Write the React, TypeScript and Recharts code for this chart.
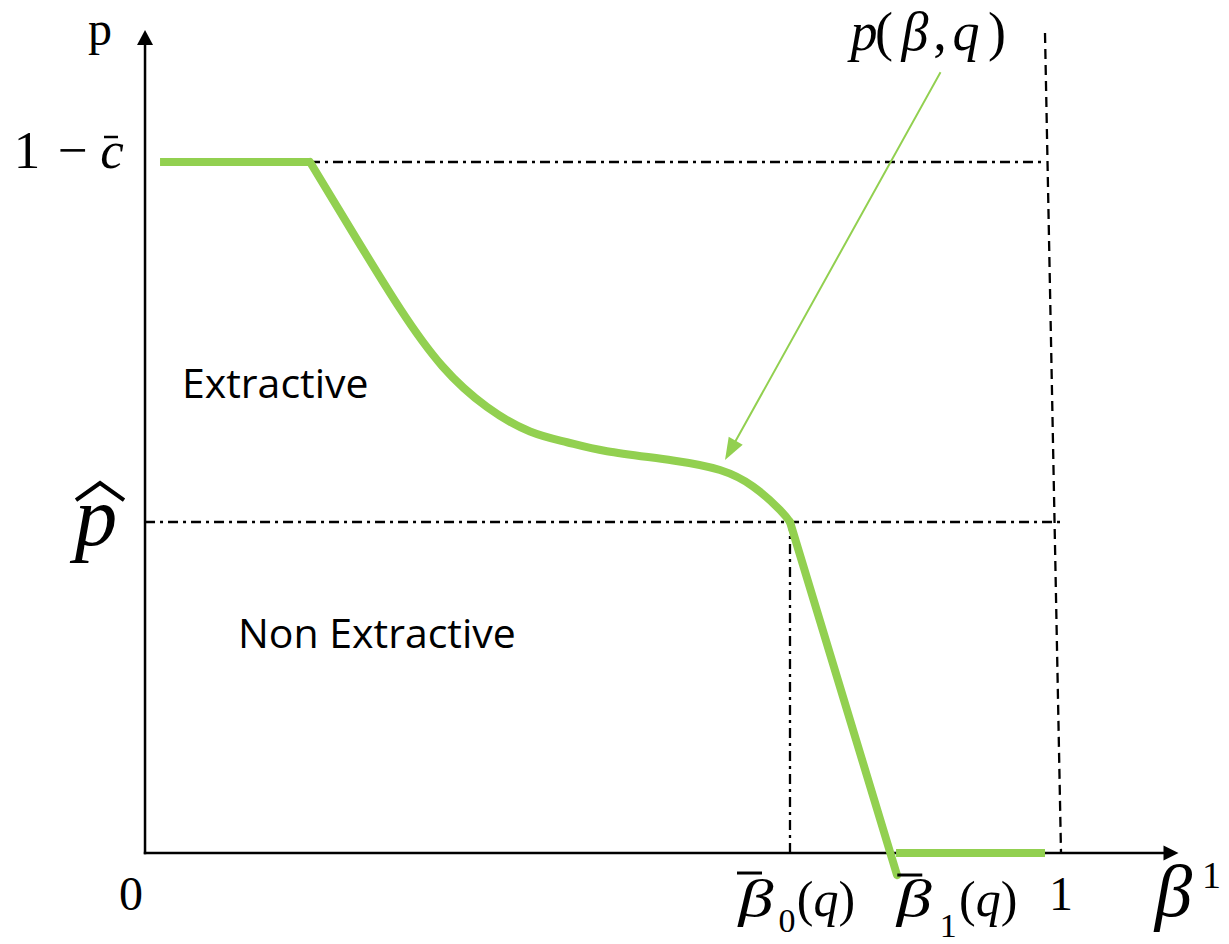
import React from 'react';
import {
  ComposedChart,
  Line,
  XAxis,
  YAxis,
  ReferenceLine,
  ReferenceDot,
} from 'recharts';

// frame of the figure, in (beta, p) units
const X_DOMAIN = [-0.1585, 1.1847];
const Y_DOMAIN = [-0.1185, 1.111];
const X_AXIS_END = 1.1295;
const Y_AXIS_END = 1.072;

// key levels
const ONE_MINUS_C = 0.9;
const P_HAT = 0.4311;
const BETA_0 = 0.7049;
const BETA_1 = 0.8145;
const BETA_MAX = 1;

// p(beta, q) pieces
const flatTop = [
  { b: 0.0164, p: 0.9 },
  { b: 0.1803, p: 0.9 },
];
const descent = [
  { b: 0.1803, p: 0.9 },
  { b: 0.2317, p: 0.799 },
  { b: 0.2787, p: 0.709 },
  { b: 0.325, p: 0.634 },
  { b: 0.3738, p: 0.5809 },
  { b: 0.4208, p: 0.549 },
  { b: 0.4612, p: 0.535 },
  { b: 0.5049, p: 0.5233 },
  { b: 0.577, p: 0.5113 },
  { b: 0.6284, p: 0.4988 },
  { b: 0.6645, p: 0.4774 },
  { b: 0.694, p: 0.4467 },
  { b: 0.7049, p: 0.4311 },
];
const steep = [
  { b: 0.7049, p: 0.4311 },
  { b: 0.8219, p: -0.0287 },
];
const flatBottom = [
  { b: 0.8208, p: 0 },
  { b: 0.9836, p: 0 },
];

// the slanted dashed line at beta = 1
const dashedTop = { b: 0.9836, p: 1.068 };
const dashedBottom = { b: 1.0011, p: 0 };

// annotation arrow for p(beta, q)
const annotFrom = { b: 0.8689, p: 1.0159 };
const annotTo = { b: 0.6339, p: 0.5119 };

// region labels
const regions = [
  { text: 'Extractive', b: 0.0404, p: 0.5926 },
  { text: 'Non Extractive', b: 0.1016, p: 0.267 },
];

const GREEN = '#92D050';
const SERIF = "'Liberation Serif', 'Times New Roman', serif";
const DASH_DOT = '10 5 3 5';

function arrowShape(color: string, width: number, headLen: number, headW: number) {
  return (props: any) => {
    const { x1, y1, x2, y2 } = props;
    const dx = x2 - x1;
    const dy = y2 - y1;
    const len = Math.hypot(dx, dy) || 1;
    const ux = dx / len;
    const uy = dy / len;
    const bx = x2 - ux * headLen;
    const by = y2 - uy * headLen;
    const nx = -uy * (headW / 2);
    const ny = ux * (headW / 2);
    return (
      <g>
        <line
          x1={x1}
          y1={y1}
          x2={bx + ux}
          y2={by + uy}
          stroke={color}
          strokeWidth={width}
          strokeLinecap="square"
        />
        <polygon
          points={`${x2},${y2} ${bx + nx},${by + ny} ${bx - nx},${by - ny}`}
          fill={color}
        />
      </g>
    );
  };
}

// text anchored to a data point, offsets in px
function mark(key: string, b: number, p: number, content: React.ReactNode) {
  return (
    <ReferenceDot
      key={key}
      x={b}
      y={p}
      r={0}
      shape={(props: any) => (
        <g transform={`translate(${props.cx},${props.cy})`}>{content}</g>
      )}
    />
  );
}

const it = { fontFamily: SERIF, fontStyle: 'italic' as const };
const up = { fontFamily: SERIF, fontStyle: 'normal' as const };

// a wide italic beta, like the one in the source figure
function wideBeta(x: number, y: number, size: number) {
  return (
    <g transform={`translate(${x},${y}) scale(1.35,1)`}>
      <text x={0} y={0} textAnchor="middle" fontSize={size} {...it}>β</text>
    </g>
  );
}

const lineProps = {
  dataKey: 'p',
  stroke: GREEN,
  strokeWidth: 8,
  dot: false,
  activeDot: false,
  isAnimationActive: false,
};

export default function App() {
  return (
    <div style={{ position: 'absolute', left: 0, top: 0, background: '#fff' }}>
      <ComposedChart width={1229} height={944} margin={{ top: 0, right: 0, bottom: 0, left: 0 }}>
        <XAxis type="number" dataKey="b" domain={X_DOMAIN} hide allowDataOverflow />
        <YAxis type="number" dataKey="p" domain={Y_DOMAIN} hide allowDataOverflow />

        {/* guide lines */}
        <ReferenceLine
          segment={[{ x: 0.1803, y: ONE_MINUS_C }, { x: 0.9836, y: ONE_MINUS_C }]}
          stroke="#000"
          strokeWidth={2.3}
          strokeDasharray={DASH_DOT}
        />
        <ReferenceLine
          segment={[{ x: 0, y: P_HAT }, { x: BETA_MAX, y: P_HAT }]}
          stroke="#000"
          strokeWidth={2.3}
          strokeDasharray={DASH_DOT}
        />
        <ReferenceLine
          segment={[{ x: BETA_0, y: 0 }, { x: BETA_0, y: P_HAT }]}
          stroke="#000"
          strokeWidth={2.3}
          strokeDasharray={DASH_DOT}
        />
        <ReferenceLine
          segment={[
            { x: dashedTop.b, y: dashedTop.p },
            { x: dashedBottom.b, y: dashedBottom.p },
          ]}
          stroke="#000"
          strokeWidth={2.3}
          strokeDasharray="10 6"
        />

        {/* axes */}
        <ReferenceLine
          segment={[{ x: 0, y: 0 }, { x: 0, y: Y_AXIS_END }]}
          shape={arrowShape('#000', 2.5, 15, 16)}
        />
        <ReferenceLine
          segment={[{ x: 0, y: 0 }, { x: X_AXIS_END, y: 0 }]}
          shape={arrowShape('#000', 2.5, 15, 15)}
        />

        {/* p(beta, q) */}
        <Line data={flatTop} type="linear" {...lineProps} />
        <Line data={descent} type="natural" strokeLinecap="round" {...lineProps} />
        <Line data={steep} type="linear" strokeLinecap="round" {...lineProps} />
        <Line data={flatBottom} type="linear" {...lineProps} />

        {/* annotation arrow */}
        <ReferenceLine
          segment={[{ x: annotFrom.b, y: annotFrom.p }, { x: annotTo.b, y: annotTo.p }]}
          shape={arrowShape(GREEN, 2, 22, 16)}
        />

        {/* labels */}
        {mark('p-axis', 0, Y_AXIS_END, (
          <text x={-45} y={15} textAnchor="middle" fontSize={48} {...up}>p</text>
        ))}
        {mark('one-minus-c', 0, ONE_MINUS_C, (
          <g fontSize={53}>
            <text x={-118} y={6} textAnchor="middle" {...up}>1</text>
            <text x={-72} y={6} textAnchor="middle" {...up}>−</text>
            <text x={-33} y={6} textAnchor="middle" {...it}>c</text>
            <line x1={-41} x2={-27} y1={-25} y2={-25} stroke="#000" strokeWidth={2.5} />
          </g>
        ))}
        {mark('p-hat', 0, P_HAT, (
          <g>
            <text x={-49} y={23} textAnchor="middle" fontSize={85} {...it}>p</text>
            <path d="M -69 -22 L -45 -39 L -21 -22" fill="none" stroke="#000" strokeWidth={4} />
          </g>
        ))}
        {mark('zero', 0, 0, (
          <text x={-14} y={57} textAnchor="middle" fontSize={48} {...up}>0</text>
        ))}
        {mark('beta0', BETA_0, 0, (
          <g fontSize={50}>
            {wideBeta(-34, 63, 52)}
            <text x={-3} y={79} textAnchor="middle" fontSize={34} {...up}>0</text>
            <text x={36} y={63} textAnchor="middle" {...up}>
              (<tspan {...it}>q</tspan>)
            </text>
            <line x1={-53} x2={-28} y1={20} y2={20} stroke="#000" strokeWidth={3} />
          </g>
        ))}
        {mark('beta1', BETA_1, 0, (
          <g fontSize={50}>
            {wideBeta(24, 63, 52)}
            <text x={58} y={84} textAnchor="middle" fontSize={34} {...up}>1</text>
            <text x={98} y={63} textAnchor="middle" {...up}>
              (<tspan {...it}>q</tspan>)
            </text>
            <line x1={7} x2={32} y1={22} y2={22} stroke="#000" strokeWidth={3} />
          </g>
        ))}
        {mark('one', BETA_MAX, 0, (
          <text x={1} y={57} textAnchor="middle" fontSize={48} {...up}>1</text>
        ))}
        {mark('beta-axis', X_AXIS_END, 0, (
          <g>
            <text x={-5} y={63} textAnchor="middle" fontSize={75} {...it}>β</text>
            <text x={33} y={35} textAnchor="middle" fontSize={38} {...up}>1</text>
          </g>
        ))}
        {mark('p-beta-q', annotFrom.b, annotFrom.p, (
          <g fontSize={54}>
            <text x={-76} y={-23} textAnchor="middle" {...it}>p</text>
            <text x={-56} y={-23} textAnchor="middle" {...up}>(</text>
            <text x={-25} y={-23} textAnchor="middle" {...it}>β</text>
            <text x={0} y={-23} textAnchor="middle" {...up}>,</text>
            <text x={26} y={-23} textAnchor="middle" {...it}>q</text>
            <text x={57} y={-23} textAnchor="middle" {...up}>)</text>
          </g>
        ))}
        {regions.map((r) =>
          mark(r.text, r.b, r.p, (
            <text x={0} y={0} fontSize={41} fontFamily="'Open Sans', sans-serif" fill="#000">
              {r.text}
            </text>
          )),
        )}
      </ComposedChart>
    </div>
  );
}
